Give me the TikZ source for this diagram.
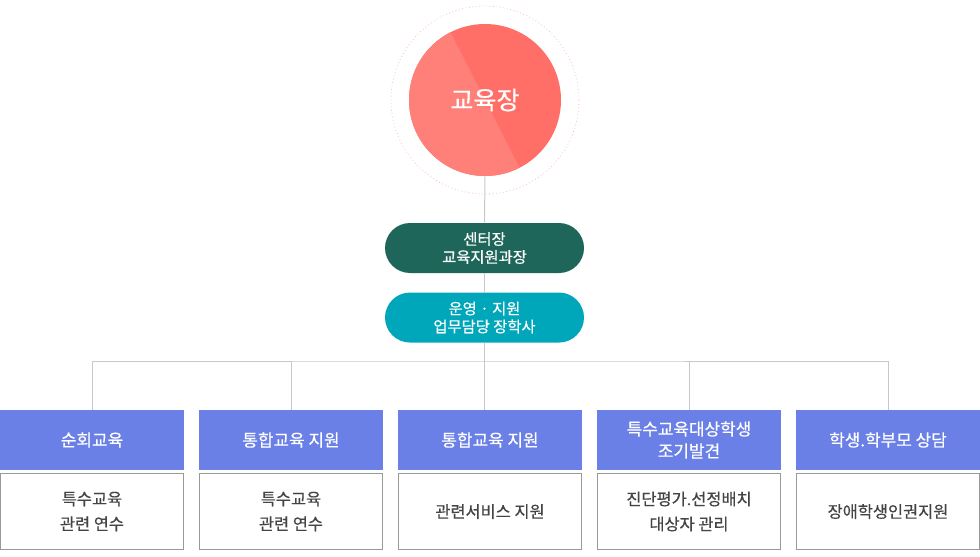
\documentclass[tikz,border=0pt]{standalone}
\usepackage{fontspec}
\setmainfont{Noto Sans CJK KR}[FakeBold=0.5]
\usepackage{xcolor}
\usepackage{tikz}
\usetikzlibrary{positioning}
\definecolor{coralDark}{RGB}{255,111,103}
\definecolor{coralLight}{RGB}{255,128,121}
\definecolor{ringPink}{RGB}{248,190,190}
\definecolor{pineGreen}{RGB}{30,102,90}
\definecolor{oceanTeal}{RGB}{0,167,186}
\definecolor{deptBlue}{RGB}{106,128,230}
\definecolor{boxGray}{RGB}{153,153,153}
\definecolor{lineGray}{RGB}{200,200,200}
\definecolor{textGray}{RGB}{68,68,68}

\begin{document}
\begin{tikzpicture}[
      x=0.75pt, y=-0.75pt,
      node distance=0pt,
      chiefnode/.style={circle, fill=coralDark, minimum size=114pt, inner sep=0pt,
                        text=white, font=\fontsize{18.8}{22}\selectfont,
                        path picture={\fill[coralLight] (path picture bounding box.center)
                            ++(117:57pt) arc[start angle=117, end angle=297, radius=57pt] -- cycle;}},
      pill/.style={rounded corners=18.75pt, minimum width=149.25pt, minimum height=37.5pt,
                   inner sep=0pt, align=center, text=white,
                   font=\fontsize{11.5}{13.5}\selectfont},
      dept/.style={fill=deptBlue, minimum width=138pt, minimum height=45pt, inner sep=0pt,
                   outer sep=0pt, align=center, text=white,
                   font=\fontsize{12.7}{16.5}\selectfont},
      task/.style={draw=boxGray, line width=0.8pt, minimum width=137.2pt, minimum height=57pt,
                   inner sep=0pt, outer sep=0pt, align=center, text=textGray,
                   font=\fontsize{12.3}{18.75}\selectfont},
      link/.style={draw=lineGray, line width=0.75pt}
  ]
  \useasboundingbox (0,0) rectangle (980,556);

  %% ---- top: superintendent with dotted ring
  \node[chiefnode] (chief) at (485,100) {교육장};
  \draw[ringPink, dotted, line width=0.6pt] (chief.center) circle[radius=70.5pt];

  %% ---- two pills under the circle
  \node[pill, fill=pineGreen] (head) at (484.5,248) {센터장\\교육지원과장};
  \node[pill, fill=oceanTeal, below=14.25pt of head] (ops) {운영 · 지원\\업무담당 장학사};

  %% ---- department row
  \node[dept] (hdA) at (92,440)  {순회교육};
  \node[dept] (hdB) at (291,440) {통합교육 지원};
  \node[dept] (hdC) at (490,440) {통합교육 지원};
  \node[dept] (hdD) at (689,440) {특수교육대상학생\\조기발견};
  \node[dept] (hdE) at (888,440) {학생.학부모 상담};

  %% ---- task boxes under each department
  \node[task, below=2.65pt of hdA] (tkA) {특수교육\\관련 연수};
  \node[task, below=2.65pt of hdB] (tkB) {특수교육\\관련 연수};
  \node[task, below=2.65pt of hdC] (tkC) {관련서비스 지원};
  \node[task, below=2.65pt of hdD] (tkD) {진단평가.선정배치\\대상자 관리};
  \node[task, below=2.65pt of hdE] (tkE) {장애학생인권지원};

  %% ---- connectors
  \coordinate (hub) at (485,361);
  \draw[link] (chief.south) -- (head.north);
  \draw[link] (head.south) -- (ops.north);
  \draw[link] (ops.south) -- (ops.south |- hdC.north);
  \draw[link] (hdA.north) |- (hub) -| (hdE.north);
  \draw[link] (hdB.north) -- (hdB.north |- hub);
  \draw[link] (hdD.north) -- (hdD.north |- hub);
\end{tikzpicture}
\end{document}
